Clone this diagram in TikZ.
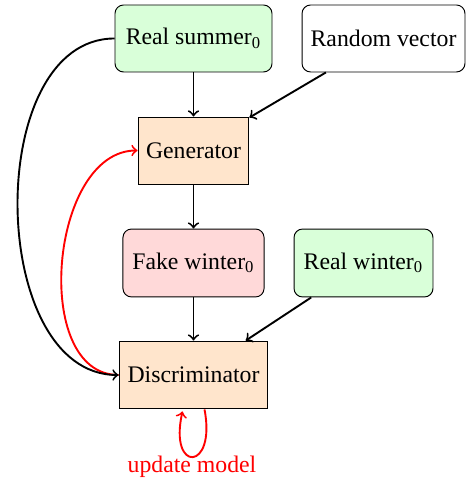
\documentclass[tikz,border=0pt]{standalone}
\usepackage{fontspec}
\setmainfont{Liberation Serif}
\usetikzlibrary{calc}
\begin{document}
\begin{tikzpicture}[x=0.421pt,y=-0.421pt,
  box/.style={draw, inner sep=0pt, font=\fontsize{10}{12}\selectfont},
  rbox/.style={box, rounded corners=3.6pt},
  conn/.style={->, thick},
  fb/.style={->, thick, red}]
\useasboundingbox (0,0) rectangle (466,485);
\node[rbox, fill=green!15, minimum width=66.1pt, minimum height=28.2pt] (summer) at (193.5,38.5) {Real summer\textsubscript{0}};
\node[rbox, fill=white, minimum width=68.6pt, minimum height=28.2pt] (random) at (383.5,38.5) {Random vector};
\node[box, fill=orange!20, minimum width=46.7pt, minimum height=28.2pt] (gen) at (193.5,150.5) {Generator};
\node[rbox, fill=red!15, minimum width=59.4pt, minimum height=28.6pt] (fake) at (193.5,263) {Fake winter\textsubscript{0}};
\node[rbox, fill=green!15, minimum width=58.5pt, minimum height=28.6pt] (realw) at (363.5,263) {Real winter\textsubscript{0}};
\node[box, fill=orange!20, minimum width=62.7pt, minimum height=28.6pt] (disc) at (193.5,375) {Discriminator};
\node[text=red, font=\fontsize{10}{12}\selectfont] (upd) at (192,467) {update model};
\draw[conn] (summer) -- (gen);
\draw[conn] (random) -- (gen);
\draw[conn] (gen) -- (fake);
\draw[conn] (fake) -- (disc);
\draw[conn] (realw) -- (disc);
\draw[fb] (disc.west) to[out=180,in=180] (gen.west);
\draw[conn] (summer.west) to[out=180,in=180] (disc.west);
\draw[fb] ($(disc.south)+(11,0)$) .. controls +(12,62) and +(-14,62) .. ($(disc.south)+(-11,2)$);
\end{tikzpicture}
\end{document}
